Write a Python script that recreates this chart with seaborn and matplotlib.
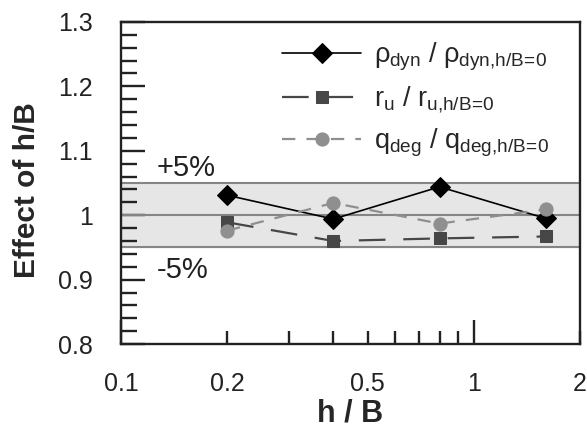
import matplotlib
matplotlib.use("Agg")
import matplotlib.pyplot as plt
import seaborn as sns
import pandas as pd
from matplotlib.ticker import FixedLocator, FixedFormatter, MultipleLocator, NullFormatter

sns.set_style("white")
plt.rcParams['font.family'] = ['Liberation Sans', 'DejaVu Sans']
plt.rcParams['mathtext.fontset'] = 'custom'
plt.rcParams['mathtext.rm'] = 'Liberation Sans'
plt.rcParams['mathtext.it'] = 'Liberation Sans'

h_over_B = [0.2, 0.4, 0.8, 1.6]
rho_dyn = [1.031, 0.994, 1.044, 0.995]
r_u = [0.989, 0.960, 0.964, 0.967]
q_deg = [0.976, 1.019, 0.987, 1.009]

labels = [r'$\rho_{\mathrm{dyn}}$ / $\rho_{\mathrm{dyn{,}h/B}\!=\!\mathrm{0}}$',
          r'$\mathrm{r}_{\mathrm{u}}$ / $\mathrm{r}_{\mathrm{u{,}h/B}\!=\!\mathrm{0}}$',
          r'$\mathrm{q}_{\mathrm{deg}}$ / $\mathrm{q}_{\mathrm{deg{,}h/B}\!=\!\mathrm{0}}$']
x_ticks = [0.1, 0.2, 0.5, 1, 2]
x_ticklabels = ['0.1', '0.2', '0.5', '1', '2']
y_ticks = [0.8, 0.9, 1.0, 1.1, 1.2, 1.3]
y_ticklabels = ['0.8', '0.9', '1', '1.1', '1.2', '1.3']

fig = plt.figure(figsize=(5.87, 4.28), dpi=100)
ax = fig.add_axes([0.206, 0.196, 0.782, 0.753])

ax.axhspan(0.95, 1.05, color='#e6e6e6', zorder=0)
for yv in (0.95, 1.0, 1.05):
    ax.axhline(yv, color='#858585', lw=1.5, zorder=1)

styles = [
    dict(color='black', marker='D', ms=10, lw=1.2, ls='-'),
    dict(color='#474747', marker='s', ms=9, lw=1.6, ls=(0, (12, 8))),
    dict(color='#8f8f8f', marker='o', ms=9.5, lw=1.6, ls=(0, (6, 5))),
]
for vals, lab, st in zip([rho_dyn, r_u, q_deg], labels, styles):
    df = pd.DataFrame({'x': h_over_B, 'y': vals})
    sns.lineplot(data=df, x='x', y='y', ax=ax, label=lab, color=st['color'],
                 marker=st['marker'], markersize=st['ms'], linewidth=st['lw'],
                 linestyle=st['ls'], markeredgecolor=st['color'], zorder=3)

ax.set_xscale('log')
ax.set_xlim(0.1, 2)
ax.set_ylim(0.8, 1.3)

ax.xaxis.set_major_locator(FixedLocator([0.1, 1]))
ax.xaxis.set_minor_locator(FixedLocator([0.2, 0.3, 0.4, 0.5, 0.6, 0.7, 0.8, 0.9, 2]))
ax.xaxis.set_major_formatter(NullFormatter())
ax.xaxis.set_minor_formatter(NullFormatter())
for xv, xl in zip(x_ticks, x_ticklabels):
    ax.text(xv, -0.085, xl, transform=ax.get_xaxis_transform(), ha='center', va='top',
            fontsize=18, color='#222222')

ax.yaxis.set_major_locator(FixedLocator(y_ticks))
ax.yaxis.set_major_formatter(FixedFormatter(y_ticklabels))
ax.yaxis.set_minor_locator(MultipleLocator(0.02))

ax.tick_params(axis='both', which='both', bottom=True, left=True, top=False, right=False,
               direction='in', color='#222222', width=1.7)
ax.tick_params(axis='y', which='major', length=17, labelsize=18, labelcolor='#222222', pad=20)
ax.tick_params(axis='y', which='minor', length=11.5)
ax.tick_params(axis='x', which='major', length=17)
ax.tick_params(axis='x', which='minor', length=9.5)

for sp in ax.spines.values():
    sp.set_visible(True)
    sp.set_color('#222222')
    sp.set_linewidth(1.7)

ax.set_xlabel('h / B', fontsize=22, fontweight='bold', va='top')
ax.xaxis.set_label_coords(0.5, -0.17)
ax.set_ylabel('Effect of h/B', fontsize=21.5, fontweight='bold')
ax.yaxis.set_label_coords(-0.175, 0.478)

ax.text(0.1265, 1.073, '+5%', fontsize=21, color='#222222', ha='left', va='center')
ax.text(0.1265, 0.915, '-5%', fontsize=21, color='#222222', ha='left', va='center')

leg = ax.legend(loc='upper right', bbox_to_anchor=(0.975, 1.0), frameon=False, fontsize=19.5,
                handlelength=2.9, labelspacing=0.42, borderaxespad=0.3, handletextpad=0.5)

fig.savefig('out.png', dpi=100)
